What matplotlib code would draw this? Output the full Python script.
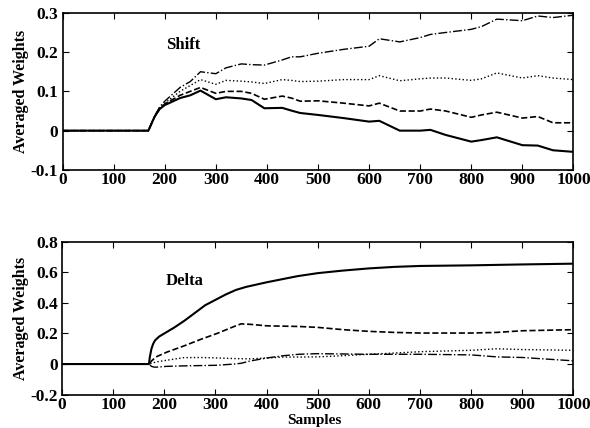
import matplotlib
matplotlib.use('Agg')
import matplotlib.pyplot as plt
import numpy as np

plt.rcParams['font.family'] = ['Liberation Serif', 'DejaVu Serif']
plt.rcParams['font.weight'] = 'bold'

# --- Shift panel (x, value) per curve ---
shift_x = [0, 168, 180, 190, 200, 230, 250, 270, 300, 320, 350, 370, 395, 430, 448, 465,
           500, 550, 600, 620, 660, 700, 720, 750, 800, 820, 850, 900, 930, 960, 1000]
shift_solid = [0, 0, 0.035, 0.055, 0.065, 0.083, 0.09, 0.102, 0.08, 0.085, 0.082, 0.078, 0.057, 0.058, 0.051, 0.045,
               0.04, 0.032, 0.023, 0.025, 0.0, 0.0, 0.002, -0.011, -0.028, -0.024, -0.017, -0.037, -0.038, -0.05, -0.054]
shift_dash = [0, 0, 0.035, 0.056, 0.068, 0.09, 0.1, 0.11, 0.095, 0.1, 0.1, 0.095, 0.08, 0.088, 0.083, 0.075,
              0.076, 0.07, 0.063, 0.07, 0.05, 0.05, 0.055, 0.05, 0.034, 0.04, 0.047, 0.032, 0.036, 0.02, 0.02]
shift_dot = [0, 0, 0.036, 0.058, 0.07, 0.1, 0.115, 0.13, 0.118, 0.128, 0.126, 0.124, 0.12, 0.13, 0.128, 0.125,
             0.126, 0.13, 0.13, 0.14, 0.127, 0.132, 0.134, 0.134, 0.128, 0.132, 0.147, 0.134, 0.14, 0.134, 0.13]
shift_dashdot = [0, 0, 0.037, 0.06, 0.075, 0.11, 0.125, 0.15, 0.145, 0.16, 0.17, 0.168, 0.167, 0.18, 0.188, 0.188,
                 0.197, 0.207, 0.215, 0.234, 0.226, 0.237, 0.245, 0.25, 0.258, 0.265, 0.284, 0.28, 0.292, 0.288, 0.294]

# --- Delta panel ---
delta_solid_x = [0, 170, 172, 175, 178, 182, 190, 200, 220, 240, 260, 280, 300, 320, 340, 360, 380, 400,
                 430, 460, 500, 550, 600, 650, 700, 800, 900, 1000]
delta_solid = [0, 0, 0.05, 0.1, 0.13, 0.155, 0.18, 0.2, 0.24, 0.285, 0.335, 0.385, 0.42, 0.455, 0.485, 0.505,
               0.52, 0.535, 0.555, 0.575, 0.595, 0.612, 0.626, 0.636, 0.642, 0.646, 0.652, 0.657]
delta_x = [0, 170, 175, 180, 186, 205, 238, 270, 303, 336, 350, 368, 401, 434, 463,
           500, 550, 600, 650, 700, 800, 850, 900, 1000]
delta_dash = [0, 0, 0.02, 0.035, 0.05, 0.078, 0.118, 0.16, 0.2, 0.245, 0.263, 0.26, 0.25, 0.248, 0.246,
              0.24, 0.225, 0.214, 0.207, 0.203, 0.203, 0.207, 0.218, 0.225]
delta_dot = [0, 0, 0.005, 0.01, 0.015, 0.025, 0.042, 0.043, 0.04, 0.036, 0.035, 0.034, 0.04, 0.046, 0.046,
             0.047, 0.055, 0.064, 0.072, 0.081, 0.09, 0.1, 0.095, 0.09]
delta_dashdot = [0, 0, -0.015, -0.02, -0.02, -0.015, -0.012, -0.01, -0.008, 0.0, 0.005, 0.02, 0.04, 0.055, 0.064,
                 0.068, 0.066, 0.064, 0.064, 0.064, 0.06, 0.047, 0.043, 0.021]

fig = plt.figure(figsize=(5.9, 4.28), dpi=100)
ax1 = fig.add_axes([0.106, 0.603, 0.866, 0.367])
ax2 = fig.add_axes([0.105, 0.078, 0.867, 0.357])

styles = [('-', 1.5), ('--', 1.2), (':', 1.0), ('-.', 1.0)]

for ys, (ls, lw) in zip([shift_solid, shift_dash, shift_dot, shift_dashdot], styles):
    ax1.plot(shift_x, ys, color='k', linestyle=ls, linewidth=lw)
ax2.plot(delta_solid_x, delta_solid, color='k', linestyle='-', linewidth=1.5)
for ys, (ls, lw) in zip([delta_dash, delta_dot, delta_dashdot], styles[1:]):
    ax2.plot(delta_x, ys, color='k', linestyle=ls, linewidth=lw)

ax1.set_ylim(-0.1, 0.3)
ax1.set_yticks([-0.1, 0, 0.1, 0.2, 0.3])
ax1.set_yticklabels(['-0.1', '0', '0.1', '0.2', '0.3'])
ax2.set_ylim(-0.2, 0.8)
ax2.set_yticks([-0.2, 0, 0.2, 0.4, 0.6, 0.8])
ax2.set_yticklabels(['-0.2', '0', '0.2', '0.4', '0.6', '0.8'])

for ax in (ax1, ax2):
    ax.set_xlim(0, 1000)
    ax.set_xticks(np.arange(0, 1001, 100))
    ax.tick_params(direction='in', top=True, right=True, labelsize=12.5, length=4, pad=3)
    ax.tick_params(axis='x', pad=1.5)
    for lab in ax.get_xticklabels() + ax.get_yticklabels():
        lab.set_fontweight('bold')
    ax.set_ylabel('Averaged Weights', fontsize=11.5, fontweight='bold', labelpad=1)
    for sp in ax.spines.values():
        sp.set_linewidth(1.2)

ax1.text(202, 0.217, 'Shift', fontsize=12, fontweight='bold', va='center')
ax2.text(202, 0.545, 'Delta', fontsize=12, fontweight='bold', va='center')
fig.text(0.532, 0.002, 'Samples', fontsize=11, fontweight='bold', ha='center', va='bottom')

fig.savefig('out.png', dpi=100)
